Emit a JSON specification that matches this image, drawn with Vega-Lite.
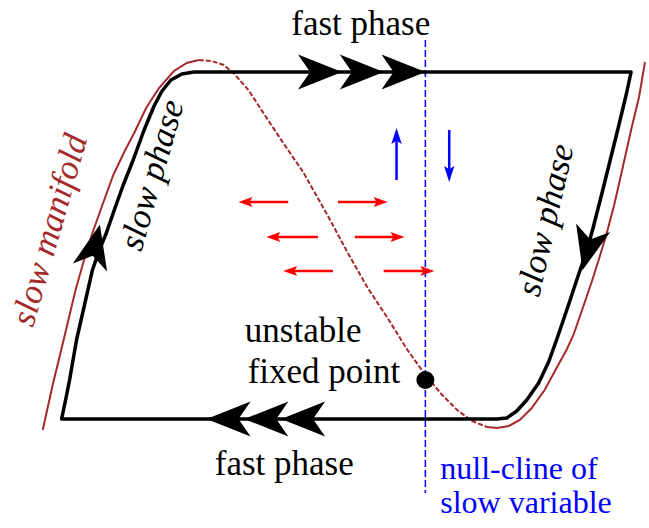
{
  "$schema": "https://vega.github.io/schema/vega-lite/v6.json",
  "width": 649,
  "height": 528,
  "autosize": {"type": "fit", "contains": "padding"},
  "padding": 0,
  "background": "white",
  "config": {"view": {"stroke": null}},
  "datasets": {
    "manifold": [
      {"seg": "L", "i": 0, "x": 43, "y": 430}, {"seg": "L", "i": 1, "x": 53, "y": 385}, {"seg": "L", "i": 2, "x": 64, "y": 340}, {"seg": "L", "i": 3, "x": 76, "y": 290}, {"seg": "L", "i": 4, "x": 86, "y": 255}, {"seg": "L", "i": 5, "x": 93, "y": 233}, {"seg": "L", "i": 6, "x": 103, "y": 205}, {"seg": "L", "i": 7, "x": 114, "y": 175}, {"seg": "L", "i": 8, "x": 125, "y": 152}, {"seg": "L", "i": 9, "x": 135, "y": 133}, {"seg": "L", "i": 10, "x": 147, "y": 108}, {"seg": "L", "i": 11, "x": 160, "y": 88}, {"seg": "L", "i": 12, "x": 175, "y": 71}, {"seg": "L", "i": 13, "x": 188, "y": 63}, {"seg": "L", "i": 14, "x": 200, "y": 60},
      {"seg": "R", "i": 0, "x": 490, "y": 427}, {"seg": "R", "i": 1, "x": 500, "y": 428}, {"seg": "R", "i": 2, "x": 512, "y": 426}, {"seg": "R", "i": 3, "x": 523, "y": 420}, {"seg": "R", "i": 4, "x": 535, "y": 408}, {"seg": "R", "i": 5, "x": 548, "y": 390}, {"seg": "R", "i": 6, "x": 560, "y": 368}, {"seg": "R", "i": 7, "x": 570, "y": 350}, {"seg": "R", "i": 8, "x": 577, "y": 335}, {"seg": "R", "i": 9, "x": 585, "y": 312}, {"seg": "R", "i": 10, "x": 595, "y": 283}, {"seg": "R", "i": 11, "x": 603, "y": 258}, {"seg": "R", "i": 12, "x": 610, "y": 235}, {"seg": "R", "i": 13, "x": 618, "y": 205}, {"seg": "R", "i": 14, "x": 626, "y": 170}, {"seg": "R", "i": 15, "x": 635, "y": 130}, {"seg": "R", "i": 16, "x": 643, "y": 97}, {"seg": "R", "i": 17, "x": 649, "y": 62}
    ],
    "manifoldMid": [
      {"i": 0, "x": 200, "y": 60}, {"i": 1, "x": 213, "y": 61}, {"i": 2, "x": 225, "y": 65}, {"i": 3, "x": 235, "y": 73}, {"i": 4, "x": 250, "y": 90}, {"i": 5, "x": 267, "y": 116}, {"i": 6, "x": 285, "y": 143}, {"i": 7, "x": 305, "y": 172}, {"i": 8, "x": 330, "y": 216}, {"i": 9, "x": 350, "y": 253}, {"i": 10, "x": 370, "y": 288}, {"i": 11, "x": 390, "y": 318}, {"i": 12, "x": 410, "y": 350}, {"i": 13, "x": 428, "y": 375}, {"i": 14, "x": 445, "y": 395}, {"i": 15, "x": 460, "y": 410}, {"i": 16, "x": 475, "y": 421}, {"i": 17, "x": 490, "y": 427}
    ],
    "cycle": [
      {"i": 0, "x": 195, "y": 72}, {"i": 1, "x": 635, "y": 72}, {"i": 2, "x": 630, "y": 95}, {"i": 3, "x": 622, "y": 128}, {"i": 4, "x": 614, "y": 160}, {"i": 5, "x": 606, "y": 192}, {"i": 6, "x": 597, "y": 227}, {"i": 7, "x": 590, "y": 252}, {"i": 8, "x": 582, "y": 275}, {"i": 9, "x": 572, "y": 305}, {"i": 10, "x": 560, "y": 340}, {"i": 11, "x": 552, "y": 362}, {"i": 12, "x": 542, "y": 383}, {"i": 13, "x": 530, "y": 400}, {"i": 14, "x": 520, "y": 411}, {"i": 15, "x": 510, "y": 418}, {"i": 16, "x": 500, "y": 419}, {"i": 17, "x": 62, "y": 419}, {"i": 18, "x": 66, "y": 400}, {"i": 19, "x": 70, "y": 380}, {"i": 20, "x": 77, "y": 340}, {"i": 21, "x": 85, "y": 305}, {"i": 22, "x": 93, "y": 270}, {"i": 23, "x": 100, "y": 250}, {"i": 24, "x": 107, "y": 233}, {"i": 25, "x": 115, "y": 210}, {"i": 26, "x": 124, "y": 185}, {"i": 27, "x": 134, "y": 160}, {"i": 28, "x": 145, "y": 130}, {"i": 29, "x": 155, "y": 106}, {"i": 30, "x": 163, "y": 91}, {"i": 31, "x": 172, "y": 80}, {"i": 32, "x": 183, "y": 74}, {"i": 33, "x": 195, "y": 72}
    ],
    "nullcline": [{"x": 428, "y": 40}, {"x": 428, "y": 493}],
    "redShafts": [
      {"seg": "a1", "x": 290, "y": 202}, {"seg": "a1", "x": 246, "y": 202},
      {"seg": "a2", "x": 340, "y": 202}, {"seg": "a2", "x": 384, "y": 202},
      {"seg": "b1", "x": 320, "y": 237}, {"seg": "b1", "x": 274, "y": 237},
      {"seg": "b2", "x": 357, "y": 237}, {"seg": "b2", "x": 401, "y": 237},
      {"seg": "c1", "x": 335, "y": 271}, {"seg": "c1", "x": 291, "y": 271},
      {"seg": "c2", "x": 386, "y": 271}, {"seg": "c2", "x": 431, "y": 271}
    ],
    "redHeads": [
      {"x": 247, "y": 202, "dir": 180}, {"x": 383, "y": 202, "dir": 0},
      {"x": 275, "y": 237, "dir": 180}, {"x": 400, "y": 237, "dir": 0},
      {"x": 292, "y": 271, "dir": 180}, {"x": 430, "y": 271, "dir": 0}
    ],
    "blueShafts": [
      {"seg": "up", "x": 399, "y": 180}, {"seg": "up", "x": 399, "y": 138},
      {"seg": "down", "x": 452, "y": 130}, {"seg": "down", "x": 452, "y": 172}
    ],
    "blueHeads": [{"x": 399, "y": 136, "dir": 270}, {"x": 452, "y": 174, "dir": 90}],
    "blackHeads": [
      {"x": 322, "y": 72, "dir": 0}, {"x": 364, "y": 72, "dir": 0}, {"x": 406, "y": 72, "dir": 0},
      {"x": 230, "y": 419, "dir": 180}, {"x": 268, "y": 419, "dir": 180}, {"x": 305, "y": 419, "dir": 180},
      {"x": 95.5, "y": 246, "dir": 283}, {"x": 591.5, "y": 249, "dir": 104}
    ],
    "fixedPoint": [{"x": 428, "y": 380}],
    "blackText": [
      {"label": "fast phase", "x": 363, "y": 35},
      {"label": "unstable", "x": 305, "y": 342},
      {"label": "fixed point", "x": 326, "y": 383},
      {"label": "fast phase", "x": 286, "y": 475}
    ],
    "blueText": [
      {"label": "null-cline of", "x": 443, "y": 479},
      {"label": "slow variable", "x": 443, "y": 513}
    ],
    "slowPhase": [
      {"label": "slow phase", "x": 153, "y": 175, "dir": 286},
      {"label": "slow phase", "x": 549, "y": 220, "dir": 283}
    ],
    "manifoldText": [{"label": "slow manifold", "x": 50, "y": 230, "dir": 286}]
  },
  "encoding": {
    "x": {"field": "x", "type": "quantitative", "scale": {"domain": [0, 649], "nice": false, "zero": false}, "axis": null},
    "y": {"field": "y", "type": "quantitative", "scale": {"domain": [0, 528], "nice": false, "zero": false, "reverse": true}, "axis": null}
  },
  "layer": [
    {
      "data": {"name": "manifold"},
      "mark": {"type": "line", "color": "#a52a2a", "strokeWidth": 2},
      "encoding": {"detail": {"field": "seg"}, "order": {"field": "i", "type": "quantitative"}}
    },
    {
      "data": {"name": "manifoldMid"},
      "mark": {"type": "line", "color": "#a52a2a", "strokeWidth": 2, "strokeDash": [5, 2]},
      "encoding": {"order": {"field": "i", "type": "quantitative"}}
    },
    {
      "data": {"name": "nullcline"},
      "mark": {"type": "line", "color": "#0000ff", "strokeWidth": 1.5, "strokeDash": [7, 3]},
      "encoding": {}
    },
    {
      "data": {"name": "cycle"},
      "mark": {"type": "line", "color": "black", "strokeWidth": 3.5, "strokeJoin": "round"},
      "encoding": {"order": {"field": "i", "type": "quantitative"}}
    },
    {
      "data": {"name": "redShafts"},
      "mark": {"type": "line", "color": "#ff0000", "strokeWidth": 2.5},
      "encoding": {"detail": {"field": "seg"}}
    },
    {
      "data": {"name": "redHeads"},
      "mark": {"type": "point", "shape": "M1,0L-1,-0.7L-0.6,0L-1,0.7Z", "filled": true, "color": "#ff0000", "opacity": 1, "size": 196, "strokeWidth": 0},
      "encoding": {"angle": {"field": "dir", "type": "quantitative", "scale": null}}
    },
    {
      "data": {"name": "blueShafts"},
      "mark": {"type": "line", "color": "#0000ff", "strokeWidth": 2.5},
      "encoding": {"detail": {"field": "seg"}}
    },
    {
      "data": {"name": "blueHeads"},
      "mark": {"type": "point", "shape": "M1,0L-1,-0.65L-0.6,0L-1,0.65Z", "filled": true, "color": "#0000ff", "opacity": 1, "size": 256, "strokeWidth": 0},
      "encoding": {"angle": {"field": "dir", "type": "quantitative", "scale": null}}
    },
    {
      "data": {"name": "blackHeads"},
      "mark": {"type": "point", "shape": "M1,0L-1,-0.8L-0.45,0L-1,0.8Z", "filled": true, "color": "black", "opacity": 1, "size": 1936, "strokeWidth": 0},
      "encoding": {"angle": {"field": "dir", "type": "quantitative", "scale": null}}
    },
    {
      "data": {"name": "fixedPoint"},
      "mark": {"type": "point", "shape": "circle", "filled": true, "color": "black", "opacity": 1, "size": 324},
      "encoding": {}
    },
    {
      "data": {"name": "blackText"},
      "mark": {"type": "text", "font": "'Liberation Serif', 'DejaVu Serif', serif", "fontSize": 35, "color": "black", "align": "center", "baseline": "alphabetic"},
      "encoding": {"text": {"field": "label"}}
    },
    {
      "data": {"name": "blueText"},
      "mark": {"type": "text", "font": "'Liberation Serif', 'DejaVu Serif', serif", "fontSize": 32, "color": "#0000ff", "align": "left", "baseline": "alphabetic"},
      "encoding": {"text": {"field": "label"}}
    },
    {
      "data": {"name": "slowPhase"},
      "mark": {"type": "text", "font": "'Liberation Serif', 'DejaVu Serif', serif", "fontSize": 35, "fontStyle": "italic", "color": "black", "align": "center", "baseline": "middle"},
      "encoding": {"text": {"field": "label"}, "angle": {"field": "dir", "type": "quantitative", "scale": null}}
    },
    {
      "data": {"name": "manifoldText"},
      "mark": {"type": "text", "font": "'Liberation Serif', 'DejaVu Serif', serif", "fontSize": 35, "fontStyle": "italic", "color": "#a52a2a", "align": "center", "baseline": "middle"},
      "encoding": {"text": {"field": "label"}, "angle": {"field": "dir", "type": "quantitative", "scale": null}}
    }
  ]
}
